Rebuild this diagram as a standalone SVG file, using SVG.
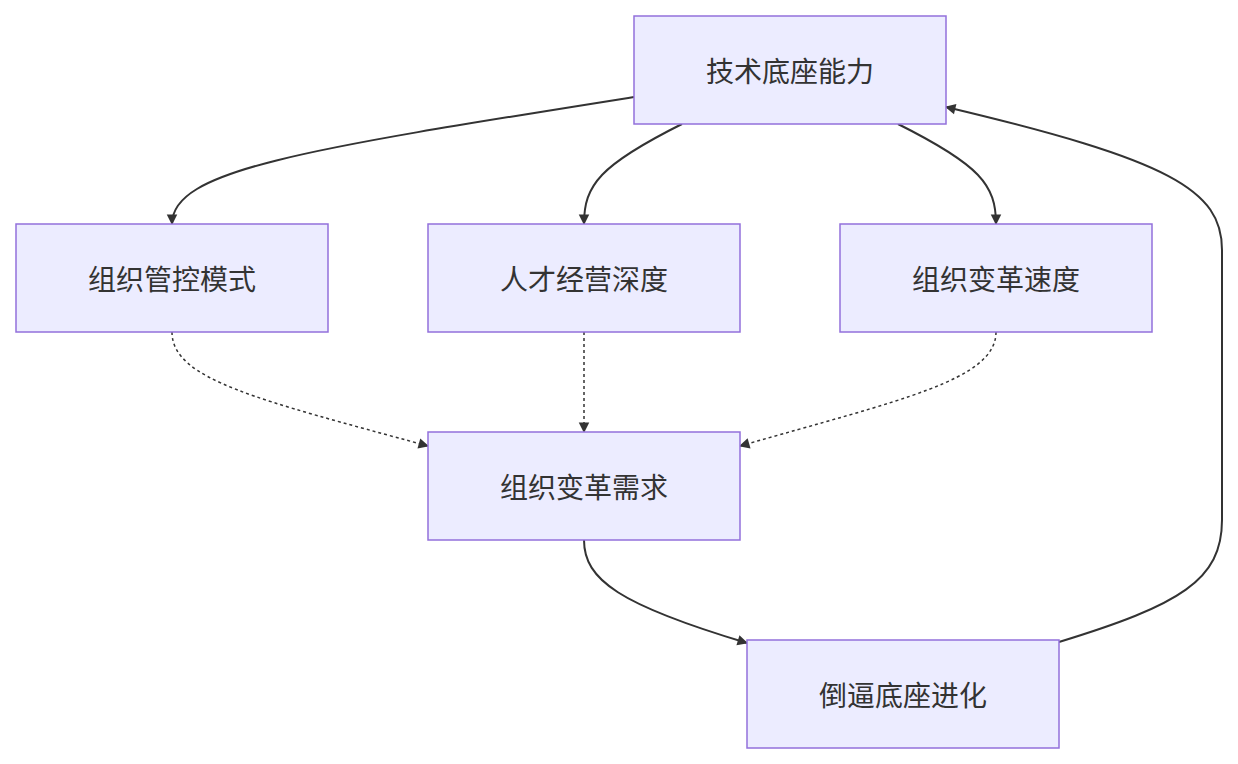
<svg xmlns="http://www.w3.org/2000/svg" width="1238" height="764" viewBox="0 0 1238 764">
<style>
.n rect{fill:#ECECFF;stroke:#9370DB;stroke-width:1.5}
.n text{font-family:"Noto Sans CJK SC","Liberation Sans",sans-serif;font-size:28px;fill:#333;text-anchor:middle;dominant-baseline:central}
.e path{fill:none;stroke:#333;stroke-width:2;marker-end:url(#a)}
.e .d{stroke-dasharray:3 3;stroke-width:1.5}
</style>
<defs><marker id="a" viewBox="0 0 10 10" refX="9" refY="5" markerWidth="7" markerHeight="7" markerUnits="userSpaceOnUse" orient="auto" style="overflow:visible"><path d="M0,0L10,5L0,10z" fill="#333" transform="scale(1.5) translate(-3,-1.67)"/></marker></defs>
<rect width="1238" height="764" fill="#fff"/>
<g class="e">
<path d="M634,97 C300,150 172,170 172,224"/>
<path d="M682,124 C600,165 584,185 584,224"/>
<path d="M898,124 C980,165 996,185 996,224"/>
<path class="d" d="M172,332 C172,380 260,400 428,446"/>
<path class="d" d="M584,332 L584,432"/>
<path class="d" d="M996,332 C996,380 900,400 740,446"/>
<path d="M584,540 C584,580 620,605 747,643"/>
<path d="M1059,642 C1180,605 1222,580 1222,520 L1222,250 C1222,190 1170,160 946,107"/>
</g>
<g id="n1" class="n"><rect x="634" y="16" width="312" height="108"/><text x="790" y="70">技术底座能力</text></g>
<g id="n2" class="n"><rect x="16" y="224" width="312" height="108"/><text x="172" y="278">组织管控模式</text></g>
<g id="n3" class="n"><rect x="428" y="224" width="312" height="108"/><text x="584" y="278">人才经营深度</text></g>
<g id="n4" class="n"><rect x="840" y="224" width="312" height="108"/><text x="996" y="278">组织变革速度</text></g>
<g id="n5" class="n"><rect x="428" y="432" width="312" height="108"/><text x="584" y="486">组织变革需求</text></g>
<g id="n6" class="n"><rect x="747" y="640" width="312" height="108"/><text x="903" y="694">倒逼底座进化</text></g>
</svg>
